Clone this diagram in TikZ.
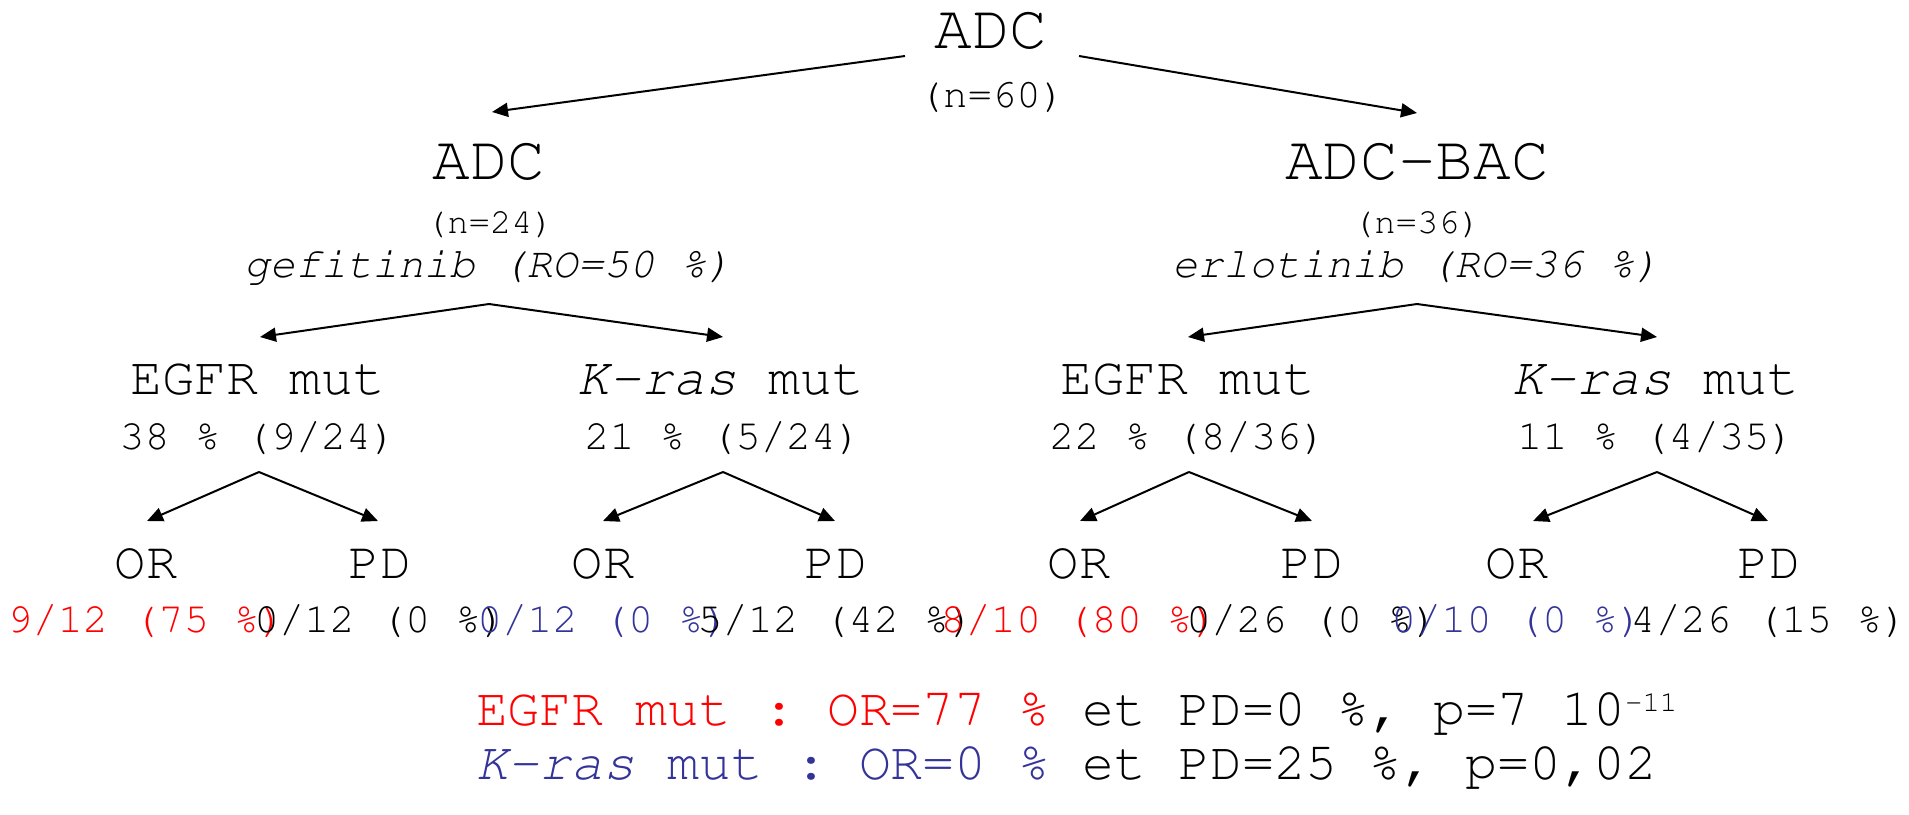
\documentclass[tikz,border=0pt]{standalone}
\usepackage[T1]{fontenc}
\usepackage{courier}
\renewcommand{\familydefault}{\ttdefault}
\usepackage{tikz}
\usetikzlibrary{arrows.meta}
\usepackage{xcolor}
\definecolor{kblue}{RGB}{51,51,153}
\frenchspacing

\begin{document}
\begin{tikzpicture}[-, x=0.5pt, y=-0.5pt, line width=1pt,
        >={Triangle[length=8pt, width=7pt]},
        every node/.style={anchor=base, inner sep=0pt},
        title/.style={font=\fontsize{31.4}{36}\selectfont},
        count/.style={font=\fontsize{20.4}{24}\selectfont},
        subcount/.style={font=\fontsize{17.8}{20}\selectfont},
        drug/.style={font=\fontsize{21.4}{24}\selectfont\itshape},
        mut/.style={font=\fontsize{26.6}{30}\selectfont},
        rate/.style={font=\fontsize{21}{24}\selectfont},
        resp/.style={font=\fontsize{26}{30}\selectfont},
        summary/.style={font=\fontsize{26.6}{30}\selectfont, anchor=base west}]
        \useasboundingbox (0,0) rectangle (1909,814);

        % root
        \node[title](ADC) at (991, 48){ADC};
        \node[count](ADC_n) at (992, 107){(n=60)};
        \coordinate (ADC_l) at (905, 56);
        \coordinate (ADC_r) at (1079, 56);

        % left branch
        \coordinate (L_top) at (492, 112);
        \node[title](L) at (489, 179){ADC};
        \node[subcount](L_n) at (490, 233){(n=24)};
        \node[drug](L_drug) at (488, 277){gefitinib (RO=50 \%)};
        \coordinate (L_d) at (489, 304);

        % right branch
        \coordinate (R_top) at (1417, 113);
        \node[title](R) at (1417, 179){ADC-BAC};
        \node[subcount](R_n) at (1417, 233){(n=36)};
        \node[drug](R_drug) at (1416, 277){erlotinib (RO=36 \%)};
        \coordinate (R_d) at (1417, 304);

        \path[->] (ADC_l) edge (L_top);
        \path[->] (ADC_r) edge (R_top);

        % mutations
        \coordinate (LE_top) at (260, 337);
        \coordinate (LK_top) at (723, 337);
        \coordinate (RE_top) at (1188, 337);
        \coordinate (RK_top) at (1657, 337);

        \path[->] (L_d) edge (LE_top);
        \path[->] (L_d) edge (LK_top);
        \path[->] (R_d) edge (RE_top);
        \path[->] (R_d) edge (RK_top);

        \node[mut](LE) at (258, 394){EGFR mut};
        \node[rate](LE_p) at (258, 449){38 \% (9/24)};
        \node[mut](LK) at (721, 394){{\itshape K-ras} mut};
        \node[rate](LK_p) at (723, 449){21 \% (5/24)};
        \node[mut](RE) at (1188, 394){EGFR mut};
        \node[rate](RE_p) at (1188, 449){22 \% (8/36)};
        \node[mut](RK) at (1656, 394){{\itshape K-ras} mut};
        \node[rate](RK_p) at (1656, 449){11 \% (4/35)};

        % responses
        \coordinate (LE_d) at (259, 472);
        \coordinate (LE_or) at (147, 521);
        \coordinate (LE_pd) at (378, 521);
        \coordinate (LK_d) at (723, 472);
        \coordinate (LK_or) at (603, 521);
        \coordinate (LK_pd) at (835, 521);
        \coordinate (RE_d) at (1189, 472);
        \coordinate (RE_or) at (1080, 521);
        \coordinate (RE_pd) at (1312, 521);
        \coordinate (RK_d) at (1657, 472);
        \coordinate (RK_or) at (1533, 521);
        \coordinate (RK_pd) at (1768, 521);

        \path[->] (LE_d) edge (LE_or);
        \path[->] (LE_d) edge (LE_pd);
        \path[->] (LK_d) edge (LK_or);
        \path[->] (LK_d) edge (LK_pd);
        \path[->] (RE_d) edge (RE_or);
        \path[->] (RE_d) edge (RE_pd);
        \path[->] (RK_d) edge (RK_or);
        \path[->] (RK_d) edge (RK_pd);

        \node[resp](LE_OR) at (146, 578){OR};
        \node[resp](LE_PD) at (380, 578){PD};
        \node[resp](LK_OR) at (603, 578){OR};
        \node[resp](LK_PD) at (836, 578){PD};
        \node[resp](RE_OR) at (1079, 578){OR};
        \node[resp](RE_PD) at (1312, 578){PD};
        \node[resp](RK_OR) at (1517, 578){OR};
        \node[resp](RK_PD) at (1769, 578){PD};

        \node[rate, red](LE_OR_v) at (146, 632){9/12 (75 \%)};
        \node[rate](LE_PD_v) at (380, 632){0/12 (0 \%)};
        \node[rate, kblue](LK_OR_v) at (603, 632){0/12 (0 \%)};
        \node[rate](LK_PD_v) at (836, 632){5/12 (42 \%)};
        \node[rate, red](RE_OR_v) at (1079, 632){8/10 (80 \%)};
        \node[rate](RE_PD_v) at (1312, 632){0/26 (0 \%)};
        \node[rate, kblue](RK_OR_v) at (1517, 632){0/10 (0 \%)};
        \node[rate](RK_PD_v) at (1769, 632){4/26 (15 \%)};

        % summary
        \node[summary](S_egfr) at (475, 725){\textcolor{red}{EGFR mut : OR=77 \%} et PD=0 \%, p=7 10\raisebox{7pt}{\fontsize{14.5}{16}\selectfont -11}};
        \node[summary](S_kras) at (475, 779){\textcolor{kblue}{{\itshape K-ras} mut : OR=0 \%} et PD=25 \%, p=0,02};
    \end{tikzpicture}
\end{document}
